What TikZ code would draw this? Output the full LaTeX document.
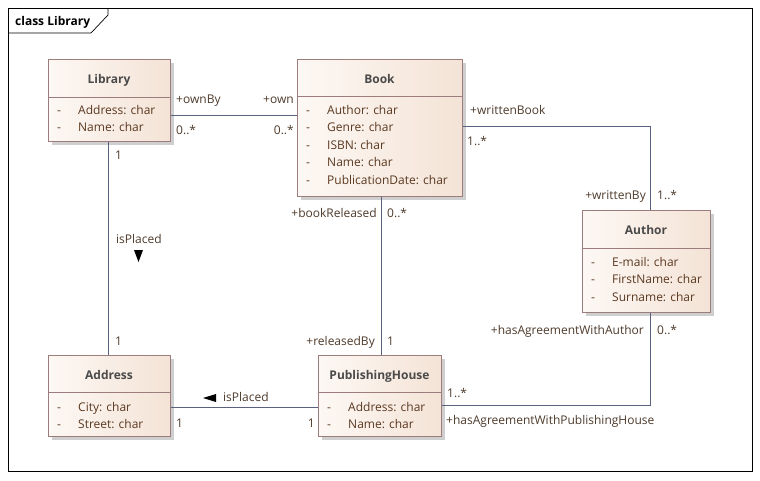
\documentclass[tikz,border=0pt]{standalone}
\usepackage{fontspec}
\setmainfont{Open Sans}
\definecolor{boxline}{HTML}{9C7C7C}
\definecolor{boxL}{HTML}{FDF8F4}
\definecolor{boxR}{HTML}{F4E3D6}
\definecolor{shadowc}{HTML}{CFCFCF}
\definecolor{connc}{HTML}{5A6080}
\definecolor{attrc}{HTML}{5A3820}
\definecolor{titlec}{HTML}{4A4A4A}
\definecolor{lblc}{HTML}{4E3B2C}
\tikzset{
  fixh/.style={text height=8.6pt, text depth=0pt, inner sep=0pt},
  classbox/.style={draw=boxline, line width=0.9pt, left color=boxL, right color=boxR, inner sep=0pt, anchor=north west},
  divline/.style={draw=boxline, line width=0.9pt},
  conn/.style={draw=connc, line width=0.85pt},
  attr/.style={font=\fontsize{12}{14}\selectfont, text=attrc, fixh, anchor=west},
  ctitle/.style={font=\fontsize{12}{14}\selectfont\bfseries, text=titlec, fixh},
  lbl/.style={font=\fontsize{12}{14}\selectfont, text=lblc, fixh},
}
\newcommand\umlclass[7]{%
  \fill[shadowc] (#2+4,#3+4) rectangle ++(#4,#5);
  \node[classbox, minimum width=#4pt, minimum height=#5pt] (#1) at (#2,#3) {};
  \draw[divline] (#2,#3+#6) -- ++(#4,0);
  \node[ctitle] (#1-t) at (#2+#4/2,#3+#6/2+1.5) {#7};
}
\newcommand\umlattrs[4]{%
  \foreach \t [count=\i] in {#4} {
    \node[attr] (#1-d\i) at (#2+9,#3+17.5*\i-17.5) {-};
    \node[attr] (#1-a\i) at (#2+30,#3+17.5*\i-17.5) {\t};
  }%
}
\begin{document}
\begin{tikzpicture}[x=1pt,y=-1pt]
\useasboundingbox (0,0) rectangle (760,480);
\fill[white] (0,0) rectangle (760,480);
% frame
\draw[black, line width=0.7pt] (8,8) rectangle (752,471);
\draw[black, line width=0.7pt] (8,33) -- (91,33) -- (108,15) -- (108,8);
\node[font=\fontsize{12}{14}\selectfont\bfseries, anchor=west, fixh] (frametitle) at (15,21) {class Library};

\coordinate (wb) at (650,126);
\coordinate (ha) at (650,405);

% classes
\umlclass{lib}{48}{59}{122}{82}{38}{Library}
\umlattrs{lib}{48}{110}{Address: char, Name: char}

\umlclass{book}{297}{59}{165}{137}{37}{Book}
\umlattrs{book}{297}{110}{Author: char, Genre: char, ISBN: char, Name: char, PublicationDate: char}

\umlclass{author}{582}{210}{128}{102}{38}{Author}
\umlattrs{author}{582}{262}{E-mail: char, FirstName: char, Surname: char}

\umlclass{addr}{48}{355}{122}{81}{37}{Address}
\umlattrs{addr}{48}{407}{City: char, Street: char}

\umlclass{ph}{318}{355}{123}{81}{37}{PublishingHouse}
\umlattrs{ph}{318}{407}{Address: char, Name: char}

% connectors
\draw[conn] (lib.east |- 0,115) -- (book.west |- 0,115);
\draw[conn] (lib.south -| 108,0) -- (addr.north -| 108,0);
\draw[conn] (book.south -| 381,0) -- (ph.north -| 381,0);
\draw[conn] (addr.east |- 0,407) -- (ph.west |- 0,407);
\draw[conn] (book.east |- wb) -- (wb) -- (author.north -| wb);
\draw[conn] (ph.east |- ha) -- (ha) -- (author.south -| ha);

% labels
\node[lbl, anchor=west] (l1) at (176,99) {+ownBy};
\node[lbl, anchor=west] (l2) at (176,130) {0..*};
\node[lbl, anchor=east] (l3) at (294,99) {+own};
\node[lbl, anchor=east] (l4) at (294,130) {0..*};
\node[lbl, anchor=west] (l5) at (115,155) {1};
\node[lbl, anchor=west] (l6) at (116,239) {isPlaced};
\fill[black] (134,250) -- (143,250) -- (138.5,262) -- cycle;
\node[lbl, anchor=west] (l7) at (115,341) {1};
\node[lbl, anchor=east] (l8) at (377,213) {+bookReleased};
\node[lbl, anchor=west] (l9) at (387,213) {0..*};
\node[lbl, anchor=east] (l10) at (375,341) {+releasedBy};
\node[lbl, anchor=west] (l11) at (387,341) {1};
\node[lbl, anchor=west] (l12) at (470,110) {+writtenBook};
\node[lbl, anchor=west] (l13) at (467,141) {1..*};
\node[lbl, anchor=east] (l14) at (646,195) {+writtenBy};
\node[lbl, anchor=west] (l15) at (657,195) {1..*};
\node[lbl, anchor=east] (l16) at (644,330) {+hasAgreementWithAuthor};
\node[lbl, anchor=west] (l17) at (657,330) {0..*};
\node[lbl, anchor=west] (l18) at (447,393) {1..*};
\node[lbl, anchor=west] (l19) at (446,420) {+hasAgreementWithPublishingHouse};
\fill[black] (203,398) -- (216,394) -- (216,402) -- cycle;
\node[lbl, anchor=west] (l20) at (223,397) {isPlaced};
\node[lbl, anchor=west] (l21) at (176,423) {1};
\node[lbl, anchor=east] (l22) at (315,423) {1};
\end{tikzpicture}
\end{document}
